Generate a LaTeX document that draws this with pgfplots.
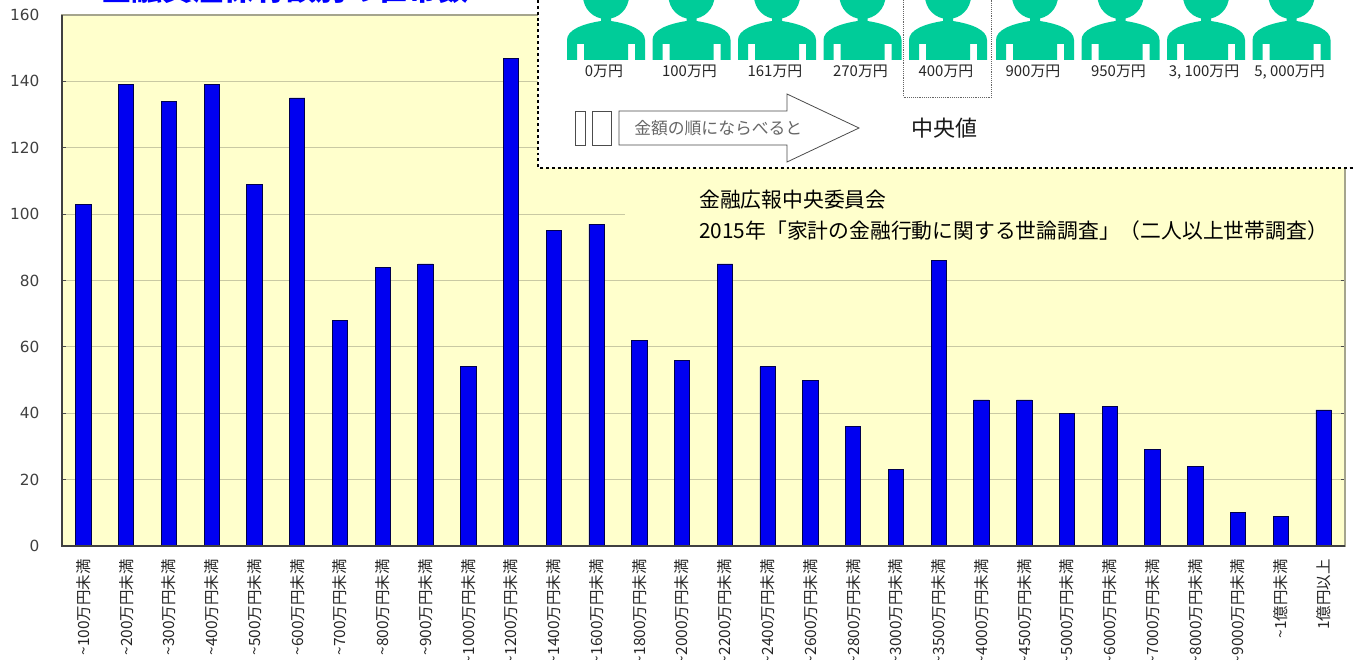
\documentclass[border=0pt]{standalone}
\usepackage{fontspec}
\usepackage{pgfplots}
\pgfplotsset{compat=1.18}
\usepackage{pgfplotstable}
\setmainfont{Noto Sans CJK JP}
\newfontfamily\dejavu{DejaVu Sans}
\definecolor{bgy}{HTML}{FFFFCC}
\definecolor{gridc}{HTML}{C9C9A3}
\definecolor{framec}{HTML}{A5A58D}
\definecolor{barc}{HTML}{0000F0}
\definecolor{personc}{HTML}{00CC99}
\pgfplotstableread{
x y
0 103
1 139
2 134
3 139
4 109
5 135
6 68
7 84
8 85
9 54
10 147
11 95
12 97
13 62
14 56
15 85
16 54
17 50
18 36
19 23
20 86
21 44
22 44
23 40
24 42
25 29
26 24
27 10
28 9
29 41
}\datatable
\begin{document}
\begin{tikzpicture}
\path[use as bounding box,clip] (0pt,0pt) rectangle (1014.75pt,-495pt);
\begin{axis}[
  at={(46.5pt,-409.5pt)},anchor=south west,
  scale only axis,width=962.25pt,height=398.25pt,
  ybar,bar width=11.5pt,
  xmin=-0.5,xmax=29.5,ymin=0,ymax=160,
  ytick={0,20,...,160},
  xtick={0,...,29},
  xticklabels={\textasciitilde 100万円未満,\textasciitilde 200万円未満,\textasciitilde 300万円未満,\textasciitilde 400万円未満,\textasciitilde 500万円未満,\textasciitilde 600万円未満,\textasciitilde 700万円未満,\textasciitilde 800万円未満,\textasciitilde 900万円未満,\textasciitilde 1000万円未満,\textasciitilde 1200万円未満,\textasciitilde 1400万円未満,\textasciitilde 1600万円未満,\textasciitilde 1800万円未満,\textasciitilde 2000万円未満,\textasciitilde 2200万円未満,\textasciitilde 2400万円未満,\textasciitilde 2600万円未満,\textasciitilde 2800万円未満,\textasciitilde 3000万円未満,\textasciitilde 3500万円未満,\textasciitilde 4000万円未満,\textasciitilde 4500万円未満,\textasciitilde 5000万円未満,\textasciitilde 6000万円未満,\textasciitilde 7000万円未満,\textasciitilde 8000万円未満,\textasciitilde 9000万円未満,\textasciitilde 1億円未満,1億円以上},
  x tick style={draw=none},
  y tick style={draw=black!70,line width=0.7pt},
  tick align=inside,
  major tick length=3pt,
  xticklabel style={rotate=90,anchor=east,font=\fontsize{11.6pt}{12pt}\selectfont,text=black!85,inner sep=0pt,xshift=-9.75pt},
  yticklabel style={font=\dejavu\fontsize{11.5pt}{12pt}\selectfont,text=black!75,xshift=-13.5pt},
  /pgf/number format/assume math mode=true,
  ymajorgrids,grid style={draw=gridc,line width=0.8pt},
  axis background/.style={fill=bgy},
  axis line style={draw=framec,line width=1.2pt},
  axis on top=false,
  clip=false,
]
\addplot[fill=barc,draw=black!70!blue,line width=0.6pt,bar shift=0pt] table[x=x,y=y] {\datatable};
\draw[draw=black!75,line width=1.1pt] (rel axis cs:0,1) -- (rel axis cs:0,0) -- (rel axis cs:1,0);
\end{axis}
\begin{scope}[x=0.75pt,y=-0.75pt]
% title, cut by the top edge
\node[anchor=base,text=blue,font=\fontsize{23pt}{24pt}\selectfont\bfseries] at (285,1) {金融資産保有額別の世帯数};
% text box over the grid
\fill[bgy] (625,185) rectangle (1344,247);
\node[anchor=base west,inner sep=0pt,font=\fontsize{15.6pt}{16pt}\selectfont] at (699,207) {金融広報中央委員会};
\node[anchor=base west,inner sep=0pt,font=\fontsize{15.6pt}{16pt}\selectfont] at (699,238) {2015年「家計の金融行動に関する世論調査」（二人以上世帯調査）};
% inset
\fill[white] (538,-5) rectangle (1360,168);
\fill[white] (1346,168) rectangle (1360,665);
\draw[black,line width=2.2pt,dash pattern=on 2.2pt off 2.2pt] (538,0) -- (538,168) -- (1353,168);
\foreach \xz/\lab in {567/0万円,652.5/100万円,738/161万円,823.5/270万円,909/400万円,996/900万円,1081.5/950万円,1167/{3, 100万円},1252.5/{5, 000万円}}{
  \pgfmathsetmacro{\cx}{\xz+39}
  \fill[personc] (\cx,-4) circle[radius=23];
  \fill[personc] (\xz,60) -- (\xz,40)
     .. controls (\xz,30) and (\xz+15,24) .. (\cx-5,21) -- (\cx-5,14) -- (\cx+5,14) -- (\cx+5,21)
     .. controls (\xz+63,24) and (\xz+78,30) .. (\xz+78,40) -- (\xz+78,60)
     -- (\xz+68,60) -- (\xz+68,44) -- (\xz+61,44) -- (\xz+61,60)
     -- (\xz+17,60) -- (\xz+17,44) -- (\xz+10,44) -- (\xz+10,60) -- cycle;
  \node[anchor=base,font=\fontsize{11.2pt}{12pt}\selectfont,text=black!85,inner sep=0pt] at (\cx-2,77) {\lab};
}
\draw[black!60,line width=0.4pt,densely dotted] (903.5,0) -- (903.5,97) -- (991.5,97) -- (991.5,0);
\draw[black!70,line width=0.6pt,fill=white] (575,111) rectangle (585,145);
\draw[black!70,line width=0.6pt,fill=white] (592,111) rectangle (611,145);
\draw[black!70,line width=0.6pt,fill=white] (619,111) -- (787,111) -- (787,94) -- (859,128) -- (787,162) -- (787,145) -- (619,145) -- cycle;
\node[anchor=west,inner sep=0pt,text=black!60,font=\fontsize{12.6pt}{13pt}\selectfont] at (634,128) {金額の順にならべると};
\node[inner sep=0pt,text=black!90,font=\fontsize{16.5pt}{17pt}\selectfont] at (944,128) {中央値};
\end{scope}
\end{tikzpicture}
\end{document}
